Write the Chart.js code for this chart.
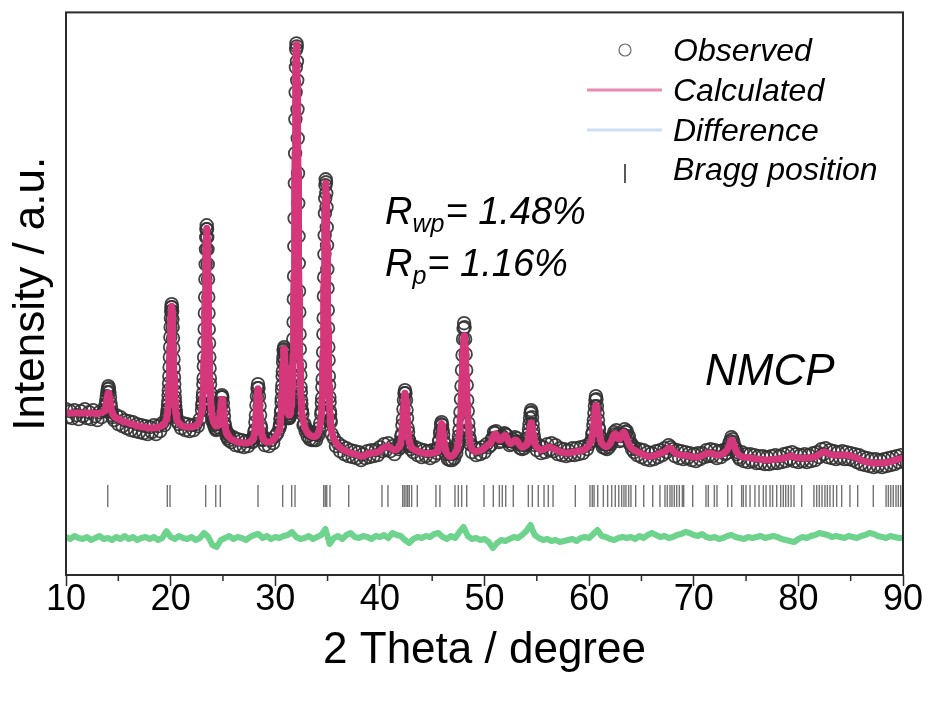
<!DOCTYPE html>
<html><head><meta charset="utf-8">
<script src="https://cdn.jsdelivr.net/npm/chart.js@4"></script>
<style>html,body{margin:0;padding:0;background:#fff}canvas{display:block}</style>
</head><body>
<canvas id="c" width="929" height="702"></canvas>
<script>
const FONT = '"Liberation Sans", Arial, Helvetica, sans-serif';

// ---- measurement blocks (2θ start, step) ----
const scanStart = [10.0, 13.65, 14.6, 19.65, 20.6, 23.0, 24.0, 25.8, 27.85, 29.0, 30.45, 32.6, 34.4, 35.4, 41.8, 43.2, 45.5, 46.5, 47.45, 48.8, 50.6, 54.05, 55.0, 60.25, 61.2, 64.6, 73.1, 74.4];
const scanStep  = [0.2, 0.05, 0.2, 0.025, 0.2, 0.025, 0.05, 0.2, 0.05, 0.2, 0.025, 0.1, 0.025, 0.2, 0.05, 0.2, 0.05, 0.1, 0.05, 0.2, 0.1, 0.05, 0.2, 0.05, 0.1, 0.2, 0.1, 0.2];

// ---- observed intensities (a.u.) ----
const observed = [
 [166,158,164,157,165,160,156,164,159,166,157,163,156,165,159,155,163,158,164],
 [165,164,169,171,175,179,183,186,189,187,183,178,172,168,163,160,158],
 [155,160,151,158,149,155,147,154,145,153,144,151,143,150,142,149,141,148,143,150,141,149,144,152,150,157],
 [159,161,164,166,170,174,180,185,192,199,208,218,228,238,248,257,264,268,271,268,264,256,248,237,227,216,207,198,191,184,178,173,169,165,163,160,158],
 [154,151,147,152,145,151,144,150,145,151,149,156],
 [165,170,172,178,182,191,197,209,218,233,246,262,278,296,311,326,338,346,350,346,338,326,311,296,278,262,246,232,218,207,197,191,182,178,171,169,164],
 [158,153,155,150,153,147,152,145,151,146,152,148,153,154,161,167,172,178,180,178,172,165,159,152,149,144,145,139,142,137,141,135,140],
 [133,138,130,136,129,135,128,134,129,135,133],
 [134,138,137,143,145,153,160,170,179,187,191,187,179,169,160,150,147,140,140,135,136],
 [130,136,129,135,132,139,142,147],
 [150,151,156,157,163,165,173,177,185,190,199,204,213,218,225,226,228,223,222,215,209,200,
  196,188,184,176,175,168,169,162,165,159,163,157,162,157,162,158,163,160,165,163,
  166,171,171,178,180,189,195,208,219,236,253,276,299,329,357,392,422,456,483,508,
  526,532,529,514,495,466,437,402,372,339,312,284,263,241,226,210,200,188,183,175,171,165,164],
 [161,150,151,144,146,139,144,136,142,135,141,135,141,135,142,140,147,152],
 [161,164,172,177,188,196,210,223,241,257,279,298,321,340,362,377,390,396,393,382,368,348,330,306,287,265,247,228,215,199,190,178,173,164,161,155,153],
 [141,137,129,132,124,129,121,127,119,125,118,124,117,123,115,121,117,124,118,125,119,125,120,128,124,131,125,132,124,129,121,128],
 [126,130,128,133,132,139,141,150,156,166,175,182,185,182,175,165,157,147,143,135,135,129,131,126,129],
 [123,128,120,126,118,125,119,124,117,125,119,126],
 [122,127,127,134,135,142,145,151,153,150,145,141,134,132,127,126,121],
 [116,122,115,121,115,122,117,125,122,128],
 [131,134,139,145,154,163,176,189,205,220,236,247,252,248,236,221,205,190,175,164,152,145,138,135,131],
 [123,128,120,126,121,128,123,131,128],
 [130,136,137,143,142,144,137,138,133,137,134,139,137,142,141,140,134,135,130,134,131,136,133,138,134,137,131,133,127,131,126,130,127,131,130],
 [131,134,137,141,146,151,157,162,165,163,158,151,145,140,136,133,130],
 [125,130,122,128,123,131,125,132,124,130,121,127,120,126,119,125,120,127,120,127,121,128,122,129,126,131,134],
 [135,141,143,150,155,162,169,175,179,176,169,162,155,148,146,139,138,133],
 [134,128,131,127,131,126,131,128,133,131,138,137,143,141,145,139,141,134,139,135,141,140,146,143,144,137,139,131,132,126,129,123,127],
 [120,126,118,125,116,123,115,122,116,124,118,125,120,127,123,130,128,126,119,125,117,124,116,123,117,122,115,121,114,122,116,122,118,125,119,126,119,125,117,124,118,125,121],
 [122,127,126,132,134,138,136,133,127,127,121,123,118],
 [116,123,114,121,113,121,114,120,112,119,112,119,111,118,111,119,112,120,112,119,113,121,114,122,116,123,114,121,113,120,114,121,113,120,114,122,115,123,118,126,121,127,118,125,117,124,116,123,117,124,116,123,116,122,115,121,113,120,111,118,110,117,109,116,108,116,109,115,108,116,109,117,110,118,111,119,113,120,115]
];

// ---- calculated profile (a.u.) ----
const calculated = [
 [162,162,162,162,162,162,162,162,162,162,162,162,162,162,161.5,161.5,162,162.5,163.5],
 [164,165,167,169,172,175,178.5,181,182,180.5,177.5,174,170.5,167,164.5,162.5,161],
 [159,157,156,155,154,153,153,152,151,151,150,149,149,148,148,148,147,147,147,147,147.5,148,148.5,149.5,151.5,156],
 [159,161,163,166,169,174,179,185,191,199,208,217,227,237,247,256,263,267,269,267,263,256,247,237,227,217,208,199,191,185,179,174,169,166,163,161,159],
 [156,152,150,149,148.5,148,148,148,148.5,149.5,151,155],
 [166,169,172.5,177,183,190,198,208,219,232,246,261.5,278,295,311,325,337,344,347,344,337,325,311,295,278,261,246,231,218,206,198,190,183,177,172,168,164.5],
 [157,155,153,152,151,150,149.5,149,149,149,149,150,152,155,159,164,169,174,176,175,170,164,158,153,148.5,145.5,143,141.5,140.5,140,139,138.5,138],
 [136,135,134,133,132.5,132.5,132,132,132.5,133,135],
 [135.6,137,139,141.5,146,151.5,159,167.5,176.5,183.5,186.5,183.5,176.5,167.5,159,151.5,146,141.5,139,137,135.6],
 [134,133,133,133.5,135,137.5,140.5,146],
 [149,152,154,158,162,166,172,178,184,191,198,205,212,219,223,226,226,224,221,216,208,201,
  195,189,183,178,174,170,167,165,163,162,161,160,160,160,160,160.5,161,162,163,165,
  167,169,172,176,181,187,196,207,220,235,254,275,300,328,358,391,423,455,484,507,
  525,531,528,515,494,467,436,403,371,340,311,285,262,242,225,211,199,189,182,176,170,166,163],
 [159,153,149,146,144,142,141,140,139.5,139,138.5,138.5,138.5,139,140,142,145,150.5],
 [160,165,171,178,187,197,209,224,240,258,278,299,320,341,361,376,387,392,389,381,367,349,329,307,286,266,246,229,214,200,189,179,172,165,160,156,152],
 [143,136,132.5,129.5,127.5,126,125,124,123,122,121.5,121,120.5,119.5,119,119,120,121,121.5,122,122,122.5,123,124,126,127.5,128.5,128.5,127.5,126,125,125.5],
 [127.8,128.6,129.6,131,133.6,137,142,148.7,156,164.6,173,179.6,182,179.6,173,164.6,156,148.7,142,137,133.6,131,129.6,128.6,127.8],
 [126,125,124,123,122.5,122,121.5,121.5,121.5,122,122.5,123],
 [123.6,125.6,128.2,131.7,135.7,140.5,145.5,149.5,151.5,149.5,145.5,140.5,135.7,131.7,128.2,125.6,123.6],
 [120,119,118.5,118.5,119,119.5,120.5,122,124,127],
 [129.7,133,137,143,150,159.5,171,184,198.5,213,226.5,236,239.5,236,226.5,213,198.5,184,171,160,150.5,143.5,137.5,134,131],
 [126,124,123.5,124,124.5,125.5,127,129,131],
 [132,135,138,140,141,141,138.5,136,135,135,135.5,137,138.5,139.5,139.5,138.5,136,133.5,132,131.5,132,133,134,135,135,134.5,133,131,129.5,128.5,128,128,128.5,129.5,131],
 [130.3,132,134,137,140.4,144.2,148,151,152,151,148,144.2,140.4,137,134,132,130.3],
 [128,126,125,125.5,126.5,127.5,128,127.5,126.5,125.5,124.5,123.5,123,122.5,122,122,122.5,123,123,123.5,124,124.5,125,126,127.5,130,134],
 [137,140,144,148.5,154,159.5,164.5,168,169.5,168,164.5,159.5,154,148.5,144,140,137,134.5],
 [132,130.5,129.5,129,128.5,128.5,129,130,131.5,133.5,136,139,141,141.5,140,137.5,136,136,137,139.5,142,143,142,139.5,136.5,133.5,131,129,127.5,126.5,125.5,125,124.5],
 [123.5,122.5,121.5,120.5,119.5,119,118.5,119,119.5,120,121,122,122.5,123.5,125,127,126.5,124.5,122.5,121,120.5,120,119.5,119.5,119.5,119,118.5,118,118,118,118.5,119.5,120.5,121.5,122,122,121.5,120.5,120,120,120.5,121.5,123],
 [124,125.5,127.5,130.5,133.5,135,134.5,132,128.5,125.5,123,121.5,120.5],
 [119.5,118.5,118,117.5,117.5,117,117,116.5,116,116,115.5,115.5,115,115,115,115.5,115.5,116,116,116,116.5,117,117.5,118,119,119,118,117.5,117,117,117,117,117,117,117.5,118,118.5,119.5,121,122,123,123,122,121,120.5,120,120,120,120,120,120,120,119.5,119,118.5,118,117,116,115,114,113.5,113,112.5,112,112,112,112,112,112,112,112.5,113,113.5,114,115,115.5,116,116.5,117]
];

// ---- difference curve (offset, a.u.), sampled from 10° every 0.4° ----
const differenceStart = 10;
const differenceStep = 0.4;
const difference = [
 38,36,39,37,36, 38,35,37,39,36, 37,35,38,36,39, 36,38,35,37,38,
 36,38,35,37,44, 38,36,39,37,36, 38,35,37,42,38, 30,28,35,37,39,
 36,38,37,35,38, 40,41,37,39,36, 38,37,39,40,43, 38,36,37,39,36,
 38,40,46,31,37, 39,36,40,42,38, 37,39,38,36,39, 38,40,37,42,40,
 39,35,32,36,38, 37,39,38,41,42, 38,36,39,37,43, 48,39,36,37,35,
 36,33,27,32,35, 34,36,38,37,40, 44,50,40,37,35, 36,34,35,33,34,
 35,36,34,37,38, 37,41,45,39,38, 36,35,37,38,37, 38,36,39,37,40,
 42,40,38,39,37, 38,40,41,43,42, 40,39,41,38,37, 38,36,37,39,40,
 38,37,36,38,37, 38,39,37,38,39, 38,36,35,34,33, 36,38,37,39,40,
 42,41,40,38,39, 38,37,39,38,37, 39,40,42,41,39, 38,37,39,38,37,
 37
];

// ---- Bragg reflections (2θ) ----
const braggPositions = [
 13.99,19.68,19.94,23.35,24.31,24.75,28.35,30.71,31.57,31.89,34.63,34.78,34.92,35.23,37.02,40.20,40.77,
 42.18,42.33,42.50,42.66,42.81,43.04,43.58,45.36,45.74,47.18,47.50,47.82,48.30,
 49.95,50.84,51.42,51.70,52.03,52.75,54.19,54.57,55.14,55.69,56.10,56.55,58.68,60.08,60.30,60.47,60.82,
 61.36,61.77,62.16,62.50,62.83,63.11,63.33,63.52,63.78,64.00,64.45,65.22,66.08,66.77,67.25,67.47,67.73,
 67.92,68.14,68.37,68.62,68.91,69.04,69.90,71.17,71.39,71.97,72.22,73.25,73.63,74.58,74.74,74.99,75.38,
 75.85,76.24,76.65,76.91,77.29,77.54,77.93,78.31,78.56,78.79,79.04,79.30,79.58,80.32,81.49,81.75,82.00,
 82.26,82.54,82.77,83.02,83.34,83.66,84.14,84.93,85.67,87.16,88.38,88.60,88.83,89.07,89.33,89.55,89.78
];
const braggLevel = 79;
const xTickValues = [10,20,30,40,50,60,70,80,90];
const xMinorTicks = [15,25,35,45,55,65,75,85];

function blocksToPoints(starts, steps, blocks) {
  const pts = [];
  blocks.forEach((vals, k) => {
    vals.forEach((v, i) => pts.push({x: +(starts[k] + i * steps[k]).toFixed(4), y: v}));
  });
  return pts;
}
const obsPts = blocksToPoints(scanStart, scanStep, observed);
const calcPts = blocksToPoints(scanStart, scanStep, calculated);
const diffPts = difference.map((v, i) => ({x: +(differenceStart + i * differenceStep).toFixed(4), y: v}));
const braggPts = braggPositions.map(p => ({x: p, y: braggLevel}));

const decor = {
  id: 'decor',
  afterDraw(chart) {
    const {ctx, chartArea: a, scales: {x}} = chart;
    ctx.save();
    ctx.strokeStyle = '#2b2b2b';
    ctx.lineWidth = 1.5;
    xMinorTicks.forEach(v => {
      const px = x.getPixelForValue(v);
      ctx.beginPath(); ctx.moveTo(px, a.bottom); ctx.lineTo(px, a.bottom + 6); ctx.stroke();
    });
    ctx.lineWidth = 2;
    ctx.strokeRect(a.left, a.top, a.right - a.left, a.bottom - a.top);

    // legend
    ctx.fillStyle = '#000';
    ctx.textBaseline = 'alphabetic';
    ctx.textAlign = 'left';
    ctx.font = 'italic 32px ' + FONT;
    ctx.fillText('Observed', 673, 61);
    ctx.fillText('Calculated', 673, 101);
    ctx.fillText('Difference', 673, 140.5);
    ctx.fillText('Bragg position', 673, 180);
    ctx.beginPath(); ctx.arc(625, 50, 6, 0, Math.PI * 2);
    ctx.strokeStyle = '#6a6a6a'; ctx.lineWidth = 1.2; ctx.stroke();
    ctx.lineWidth = 3;
    ctx.strokeStyle = 'rgb(232,140,178)';
    ctx.beginPath(); ctx.moveTo(587, 90); ctx.lineTo(662, 90); ctx.stroke();
    ctx.strokeStyle = 'rgb(205,222,245)';
    ctx.beginPath(); ctx.moveTo(587, 130); ctx.lineTo(662, 130); ctx.stroke();
    ctx.strokeStyle = '#222'; ctx.lineWidth = 1.5;
    ctx.beginPath(); ctx.moveTo(625, 164); ctx.lineTo(625, 183); ctx.stroke();

    // R factors
    const rText = (sub, rest, x0, y0) => {
      ctx.font = 'italic 38px ' + FONT;
      ctx.fillText('R', x0, y0);
      const w1 = ctx.measureText('R').width;
      ctx.font = 'italic 25px ' + FONT;
      ctx.fillText(sub, x0 + w1, y0 + 8);
      const w2 = ctx.measureText(sub).width;
      ctx.font = 'italic 38px ' + FONT;
      ctx.fillText(rest, x0 + w1 + w2 + 1, y0);
    };
    rText('wp', '= 1.48%', 385, 224);
    rText('p', '= 1.16%', 385, 276);
    ctx.font = 'italic 44px ' + FONT;
    ctx.fillText('NMCP', 705, 385);
    ctx.restore();
  }
};

new Chart(document.getElementById('c'), {
  type: 'scatter',
  data: {
    datasets: [
      {label: 'Calculated', type: 'line', data: calcPts, borderColor: '#d4387b', borderWidth: 7,
       pointRadius: 0, fill: false, tension: 0, order: 0, borderJoinStyle: 'round', borderCapStyle: 'round'},
      {label: 'Difference', type: 'line', data: diffPts, borderColor: 'rgb(110,211,140)', borderWidth: 6,
       pointRadius: 0, fill: false, tension: 0, order: 1, borderJoinStyle: 'round'},
      {label: 'Observed', data: obsPts, pointStyle: 'circle', pointRadius: 6.3, pointBorderWidth: 1.8,
       pointBorderColor: 'rgba(50,50,50,0.92)', pointBackgroundColor: 'rgba(255,255,255,0)', order: 2},
      {label: 'Bragg position', data: braggPts, pointStyle: 'line', rotation: 90, pointRadius: 11,
       pointBorderWidth: 1.4, pointBorderColor: '#737373', order: 3}
    ]
  },
  options: {
    responsive: false, animation: false, events: [],
    layout: {padding: {left: 0, right: 26, top: 12, bottom: 0}},
    plugins: {legend: {display: false}, tooltip: {enabled: false}},
    scales: {
      x: {
        type: 'linear', min: 10, max: 90,
        afterFit(s) { s.height = 127; },
        afterBuildTicks(s) { s.ticks = xTickValues.map(v => ({value: v})); },
        ticks: {font: {family: FONT, size: 36, lineHeight: 1}, color: '#000', padding: -4, maxRotation: 0, autoSkip: false},
        grid: {drawOnChartArea: false, tickLength: 11, tickWidth: 1.5, tickColor: '#2b2b2b'},
        border: {display: false},
        title: {display: true, text: '2 Theta / degree', color: '#000',
                font: {family: FONT, size: 44, lineHeight: 1.2}, padding: {top: 0, bottom: 25}}
      },
      y: {
        min: 0, max: 563,
        afterFit(s) { s.width = 66; },
        ticks: {display: false},
        grid: {display: false, drawTicks: false},
        border: {display: false},
        title: {display: true, text: 'Intensity / a.u.', color: '#000',
                font: {family: FONT, size: 44, lineHeight: 1.2}, padding: {top: 5, bottom: 0}}
      }
    }
  },
  plugins: [decor]
});
</script>
</body></html>
